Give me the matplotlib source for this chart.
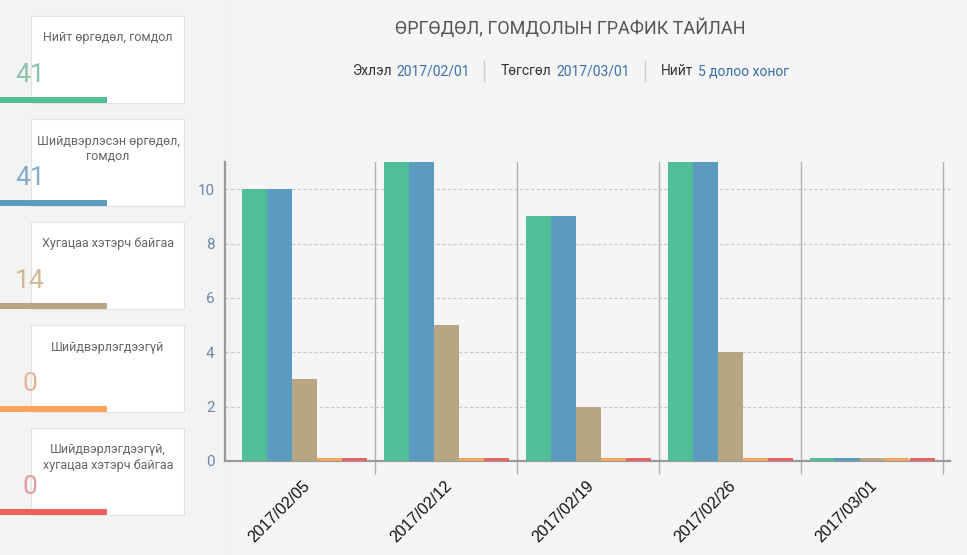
import matplotlib
matplotlib.use("Agg")
import matplotlib.pyplot as plt
import matplotlib.transforms as mtrans
import numpy as np
from matplotlib.patches import Rectangle

plt.rcParams['font.family'] = ['Roboto', 'DejaVu Sans']

# ---- data ----
weeks = ["2017/02/05", "2017/02/12", "2017/02/19", "2017/02/26", "2017/03/01"]
series_names = ["Нийт өргөдөл, гомдол", "Шийдвэрлэсэн өргөдөл,\nгомдол", "Хугацаа хэтэрч байгаа",
                "Шийдвэрлэгдээгүй", "Шийдвэрлэгдээгүй,\nхугацаа хэтэрч байгаа"]
total = [10, 11, 9, 11, 0]
resolved = [10, 11, 9, 11, 0]
overdue = [3, 5, 2, 4, 0]
unresolved = [0, 0, 0, 0, 0]
unresolved_overdue = [0, 0, 0, 0, 0]
card_values = [41, 41, 14, 0, 0]
yticks = [0, 2, 4, 6, 8, 10]

title = "ӨРГӨДӨЛ, ГОМДОЛЫН ГРАФИК ТАЙЛАН"
start_label, start_value = "Эхлэл", "2017/02/01"
end_label, end_value = "Төгсгөл", "2017/03/01"
span_label, span_value = "Нийт", "5 долоо хоног"

bar_colors = ["#50bf98", "#5b9bbf", "#b7a682", "#f6a560", "#ea6363"]
card_bar_colors = ["#52be94", "#5b9bc0", "#b8a383", "#ffa35a", "#f0605d"]
num_colors = ["#8cc2a9", "#86abc8", "#cfb993", "#e4b393", "#e69d9d"]

W, H = 967, 555
fig = plt.figure(figsize=(W / 100, H / 100), dpi=100, facecolor="#f5f5f5")

# overlay axes in pixel coordinates
ov = fig.add_axes([0, 0, 1, 1], zorder=0)
ov.set_xlim(0, W)
ov.set_ylim(H, 0)
ov.axis("off")
ov.add_patch(Rectangle((0, 0), 230, H, facecolor="#f3f3f3", edgecolor="none"))
ov.plot([230, 230], [0, H], color="#efefef", lw=1)

card_tops = [16, 119, 222, 325, 428]
for i, top in enumerate(card_tops):
    ov.add_patch(Rectangle((31, top), 153, 87, facecolor="white", edgecolor="#e2e2e2", lw=0.8, zorder=1))
    lines = series_names[i].split("\n")
    for j, ln in enumerate(lines):
        ov.text(108, top + 22 + 15 * j, ln, ha="center", va="center", fontsize=9, color="#666666", zorder=3)
    ov.text(30, top + 59, str(card_values[i]), ha="center", va="center", fontsize=19,
            color=num_colors[i], fontweight="normal", zorder=3)
    ov.add_patch(Rectangle((0, top + 81), 107, 6, facecolor=card_bar_colors[i], edgecolor="none", zorder=2))

# header
ov.text(570, 28, title, ha="center", va="center", fontsize=13, color="#555555")
hy = 71
ov.text(352, hy, start_label, ha="left", va="center", fontsize=10, color="#333333")
ov.text(396, hy, start_value, ha="left", va="center", fontsize=10, color="#3b6fae")
ov.plot([484, 484], [hy - 10, hy + 10], color="#cccccc", lw=1)
ov.text(501, hy, end_label, ha="left", va="center", fontsize=10, color="#333333")
ov.text(556, hy, end_value, ha="left", va="center", fontsize=10, color="#3b6fae")
ov.plot([645, 645], [hy - 10, hy + 10], color="#cccccc", lw=1)
ov.text(661, hy, span_label, ha="left", va="center", fontsize=10, color="#333333")
ov.text(698, hy, span_value, ha="left", va="center", fontsize=10, color="#3b6fae")

# ---- chart ----
ax = fig.add_axes([225 / W, (H - 461) / H, (950 - 225) / W, (461 - 162) / H], zorder=1)
ax.set_facecolor("none")
series = [total, resolved, overdue, unresolved, unresolved_overdue]
x = np.arange(len(weeks))
bw = 25 / 142
for i, vals in enumerate(series):
    v = np.array(vals, dtype=float)
    disp = np.where(v == 0, 0.11, v)
    ax.bar(x + (i - 2) * bw, disp, width=bw, color=bar_colors[i], linewidth=0, zorder=3)

ax.set_xlim(-0.5 - 8 / 142, len(weeks) - 0.5 + 7 / 142)
ax.set_ylim(0, 11)
ax.set_yticks(yticks)
ax.set_yticklabels([str(t) for t in yticks], color="#6c87a8", fontsize=11)
ax.tick_params(axis="y", length=0, pad=7.5)
for t in yticks[1:]:
    ax.axhline(t, color="#c8c8c8", lw=0.8, ls=(0, (3, 2)), zorder=1)
bounds = np.arange(len(weeks)) + 0.5
for b in bounds:
    ax.axvline(b, color="#b0b0b0", lw=1, zorder=1)
ax.set_xticks(bounds, minor=True)
ax.tick_params(axis="x", which="minor", length=9, color="#b0b0b0", width=1)
ax.set_xticks(x)
ax.set_xticklabels(weeks, rotation=45, ha="right", va="center", rotation_mode="anchor",
                   fontsize=11.5, color="#111111", family=["Liberation Sans", "DejaVu Sans"])
ax.tick_params(axis="x", which="major", length=0, pad=16)
off = mtrans.ScaledTranslation(3 / 100, 0, fig.dpi_scale_trans)
for lbl in ax.get_xticklabels():
    lbl.set_transform(lbl.get_transform() + off)
for s in ["top", "right"]:
    ax.spines[s].set_visible(False)
ax.spines["left"].set_color("#9a9a9a")
ax.spines["left"].set_linewidth(1.6)
ax.spines["bottom"].set_color("#9a9a9a")
ax.spines["bottom"].set_linewidth(1.6)

fig.savefig("out.png", dpi=100, facecolor=fig.get_facecolor())
